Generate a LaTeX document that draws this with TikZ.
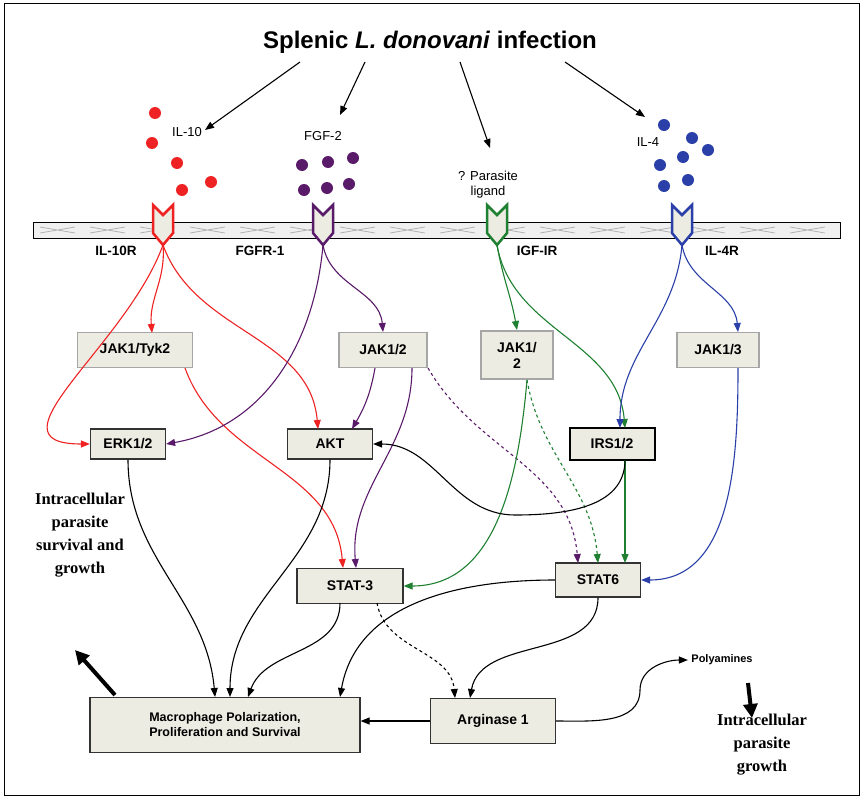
\documentclass[tikz,border=0pt]{standalone}
\usepackage{fontspec}
\setmainfont{Liberation Sans}
\newfontfamily\serifb{Liberation Serif}
\usetikzlibrary{arrows.meta}
\definecolor{rr}{HTML}{EE2222}
\definecolor{pp}{HTML}{5A1A6A}
\definecolor{gg}{HTML}{1E8030}
\definecolor{bb}{HTML}{2A3FA8}
\definecolor{bx}{HTML}{ECECE2}
\begin{document}
\begin{tikzpicture}[x=1pt,y=-1pt,
 box/.style={draw=gray!70,line width=1.2pt,fill=bx,font=\bfseries\fontsize{14}{16}\selectfont,align=center,minimum height=30},
 con/.style={-{Triangle[length=9,width=7]},line width=1.1pt},
 dot/.style={circle,inner sep=0,minimum size=12},
 lab/.style={font=\fontsize{13}{15}\selectfont,align=center},
 rlab/.style={font=\bfseries\fontsize{13.5}{15}\selectfont}]
\useasboundingbox (0,0) rectangle (864,800);
\draw[line width=1pt] (4,4) rectangle (859,795);
\node (title) at (430,42) {\bfseries\fontsize{24}{28}\selectfont Splenic \emph{L. donovani} infection};
% membrane
\draw[line width=1pt,fill=gray!12] (33,222) rectangle (840,238);
\foreach \x in {40,90,...,820}{\draw[gray!60,line width=0.8pt] (\x,227)--(\x+35,233) (\x,233)--(\x+35,227);}
% ligands
\foreach \p in {(155,113),(152,143),(177,163),(182,190),(211,182)} \node[dot,fill=rr] at \p {};
\foreach \p in {(302,165),(328,162),(353,158),(304,190),(327,188),(349,184)} \node[dot,fill=pp] at \p {};
\foreach \p in {(664,125),(692,138),(708,150),(660,165),(683,157),(688,180),(664,186)} \node[dot,fill=bb] at \p {};
\node[lab] (il10) at (187,132) {IL-10};
\node[lab] (fgf) at (323,136) {FGF-2};
\node[lab] (par) at (488,185) {? Parasite\\ligand};
\node[lab] (il4) at (648,142) {IL-4};
\coordinate (l1) at (205,130);\coordinate (l2) at (340,115);\coordinate (l3) at (490,148);\coordinate (l4) at (645,117);
\draw[con] (300,62) -- (l1);
\draw[con] (365,62) -- (l2);
\draw[con] (460,62) -- (l3);
\draw[con] (565,62) -- (l4);
% receptors
\foreach \x/\c/\n in {163/rr/r1,323/pp/r2,497/gg/r3,682/bb/r4}{
 \draw[\c,line width=2.5pt,fill=bx,line join=miter] (\x-10,205)--(\x,215)--(\x+10,205)--(\x+10,233)--(\x,245)--(\x-10,233)--cycle;
 \coordinate (\n) at (\x,245);}
\node[rlab] at (116,251) {IL-10R};
\node[rlab] at (260,251) {FGFR-1};
\node[rlab] at (537,251) {IGF-IR};
\node[rlab] at (722,251) {IL-4R};
% boxes
\node[box,minimum width=115,minimum height=35] (jt) at (135,350) {JAK1/Tyk2};
\node[box,minimum width=88,minimum height=35] (j12) at (383,350) {JAK1/2};
\node[box,minimum width=72,minimum height=48] (j2) at (517,355) {JAK1/\\2};
\node[box,minimum width=82,minimum height=35] (j13) at (718,350) {JAK1/3};
\node[box,draw=black!80,minimum width=75] (erk) at (128,444) {ERK1/2};
\node[box,draw=black!80,minimum width=85] (akt) at (330,444) {AKT};
\node[box,draw=black,line width=2pt,minimum width=85,minimum height=32] (irs) at (612,444) {IRS1/2};
\node[box,draw=black!80,minimum width=106,minimum height=35] (s3) at (350,586) {STAT-3};
\node[box,draw=black!80,minimum width=85,minimum height=34] (s6) at (598,580) {STAT6};
\node[box,draw=black!80,minimum width=270,minimum height=55,font=\bfseries\fontsize{12.5}{15}\selectfont] (mac) at (225,725) {Macrophage Polarization,\\Proliferation and Survival};
\node[box,draw=black!80,minimum width=125,minimum height=45] (arg) at (493,721) {Arginase 1};
\node[rlab,font=\bfseries\fontsize{11}{12}\selectfont] (poly) at (722,660) {Polyamines};
\node[font=\serifb\bfseries\fontsize{16.5}{23}\selectfont,align=center] (isg) at (80,535) {Intracellular\\parasite\\survival and\\growth};
\node[font=\serifb\bfseries\fontsize{16.5}{23}\selectfont,align=center] (ipg) at (762,745) {Intracellular\\parasite\\growth};
\draw[-{Triangle[length=14,width=14]},line width=4pt] (115,695) -- (75,650);
\draw[-{Triangle[length=14,width=14]},line width=4pt] (748,683) -- (752,718);
% red
\draw[con,rr] (r1) to[out=-85,in=95] (152,333);
\draw[con,rr] (r1) to[out=-110,in=180,looseness=1.3] (erk.west);
\draw[con,rr] (r1) to[out=-70,in=95] (318,429);
\draw[con,rr] (185,368) to[out=-70,in=95] (343,568);
% purple
\draw[con,pp] (r2) to[out=-80,in=95] (383,332);
\draw[con,pp] (r2) to[out=-95,in=10] (erk.east);
\draw[con,pp] (375,368) to[out=-100,in=60] (352,429);
\draw[con,pp] (412,368) to[out=-90,in=95] (356,568);
\draw[con,pp,dashed] (428,368) to[out=-60,in=95] (578,563);
% green
\draw[con,gg] (r3) to[out=-80,in=100] (517,330);
\draw[con,gg] (r3) to[out=-80,in=95] (625,428);
\draw[con,gg] (527,380) to[out=-95,in=0] (s3.east);
\draw[con,gg,dashed] (527,380) to[out=-80,in=95] (598,563);
\draw[con,gg] (625,460) to[out=-90,in=90] (625,563);
% blue
\draw[con,bb] (r4) to[out=-80,in=95] (738,332);
\draw[con,bb] (r4) to[out=-95,in=90] (620,428);
\draw[con,bb] (738,368) to[out=-90,in=0] (s6.east);
% black
\draw[con] (625,460) to[out=-90,in=0] (515,515) to[out=180,in=0] (akt.east);
\draw[con] (erk.south) to[out=-90,in=95] (215,697);
\draw[con] (akt.south) to[out=-90,in=90] (230,697);
\draw[con] (340,603) to[out=-90,in=70] (248,697);
\draw[con] (s6.west) to[out=180,in=80] (340,697);
\draw[con,dashed] (377,603) to[out=-80,in=95] (455,698);
\draw[con] (s6.south) to[out=-90,in=80] (470,698);
\draw[con] (arg.west) -- (arg.west -| mac.east);
\draw[con] (arg.east) to[out=0,in=-90] (640,690) to[out=90,in=180] (poly.west);
\end{tikzpicture}
\end{document}
